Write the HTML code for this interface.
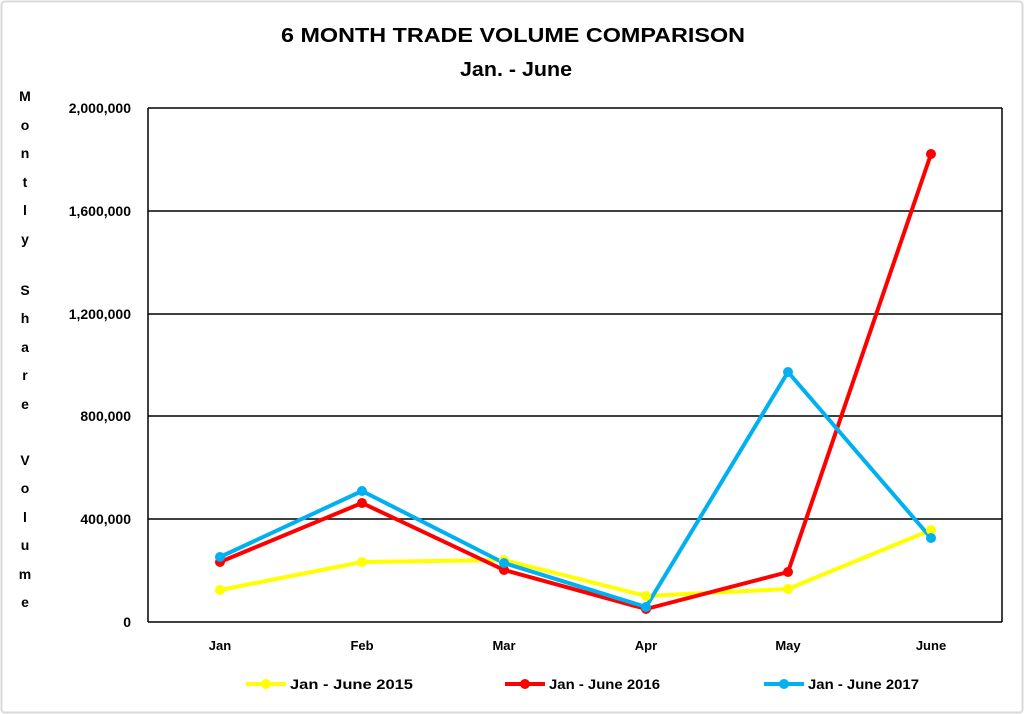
<!DOCTYPE html><html><head><style>body{margin:0;background:#fff}svg{display:block}text{font-family:"Liberation Sans",sans-serif;font-weight:bold}</style></head><body>
<svg width="1024" height="714" viewBox="0 0 1024 714">
<rect x="1.5" y="1.5" width="1021" height="711" fill="#fff" stroke="#d9d9d9" stroke-width="2" rx="3"/>
<text x="281" y="42" font-size="20" textLength="464" lengthAdjust="spacingAndGlyphs">6 MONTH TRADE VOLUME COMPARISON</text>
<text x="460" y="76" font-size="20" textLength="112" lengthAdjust="spacingAndGlyphs">Jan. - June</text>
<g font-size="14" text-anchor="middle">
<text x="25" y="101">M</text><text x="25" y="130">o</text><text x="25" y="158">n</text><text x="25" y="187">t</text><text x="25" y="215">l</text><text x="25" y="244">y</text>
<text x="25" y="295">S</text><text x="25" y="323">h</text><text x="25" y="352">a</text><text x="25" y="380">r</text><text x="25" y="409">e</text>
<text x="25" y="465">V</text><text x="25" y="493">o</text><text x="25" y="522">l</text><text x="25" y="550">u</text><text x="25" y="579">m</text><text x="25" y="607">e</text>
</g>
<g stroke="#000" stroke-width="1.5">
<line x1="148" y1="108" x2="1002" y2="108"/><line x1="148" y1="211" x2="1002" y2="211"/><line x1="148" y1="314" x2="1002" y2="314"/><line x1="148" y1="416" x2="1002" y2="416"/><line x1="148" y1="519" x2="1002" y2="519"/><line x1="148" y1="622" x2="1002" y2="622"/>
<line x1="148" y1="108" x2="148" y2="622"/><line x1="1002" y1="108" x2="1002" y2="622"/>
</g>
<g font-size="14" text-anchor="end">
<text x="131" y="113">2,000,000</text><text x="131" y="216">1,600,000</text><text x="131" y="319">1,200,000</text><text x="131" y="421">800,000</text><text x="131" y="524">400,000</text><text x="131" y="627">0</text>
</g>
<g font-size="13" text-anchor="middle">
<text x="220" y="650">Jan</text><text x="362" y="650">Feb</text><text x="504" y="650">Mar</text><text x="646" y="650">Apr</text><text x="788" y="650">May</text><text x="931" y="650">June</text>
</g>
<g stroke-width="4" fill="none" stroke-linejoin="round">
<polyline stroke="#ffff00" points="220,590 362,562 504,560 646,596 788,589 931,530"/>
<polyline stroke="#ff0000" points="220,562 362,503 504,570 646,609 788,572 931,154"/>
<polyline stroke="#00b0f0" points="220,557 362,491 504,563 646,607 788,372 931,538"/>
</g>
<g fill="#ffff00"><circle cx="220" cy="590" r="5"/><circle cx="362" cy="562" r="5"/><circle cx="504" cy="560" r="5"/><circle cx="646" cy="596" r="5"/><circle cx="788" cy="589" r="5"/><circle cx="931" cy="530" r="5"/></g>
<g fill="#ff0000"><circle cx="220" cy="562" r="5"/><circle cx="362" cy="503" r="5"/><circle cx="504" cy="570" r="5"/><circle cx="646" cy="609" r="5"/><circle cx="788" cy="572" r="5"/><circle cx="931" cy="154" r="5"/></g>
<g fill="#00b0f0"><circle cx="220" cy="557" r="5"/><circle cx="362" cy="491" r="5"/><circle cx="504" cy="563" r="5"/><circle cx="646" cy="607" r="5"/><circle cx="788" cy="372" r="5"/><circle cx="931" cy="538" r="5"/></g>
<g stroke-width="4"><line x1="246" y1="684" x2="286" y2="684" stroke="#ffff00"/><line x1="505" y1="684" x2="545" y2="684" stroke="#ff0000"/><line x1="764" y1="684" x2="804" y2="684" stroke="#00b0f0"/></g>
<circle cx="266" cy="684" r="5" fill="#ffff00"/><circle cx="525" cy="684" r="5" fill="#ff0000"/><circle cx="784" cy="684" r="5" fill="#00b0f0"/>
<g font-size="14"><text x="290" y="689" textLength="123" lengthAdjust="spacingAndGlyphs">Jan - June 2015</text><text x="549" y="689" textLength="111" lengthAdjust="spacingAndGlyphs">Jan - June 2016</text><text x="808" y="689" textLength="111" lengthAdjust="spacingAndGlyphs">Jan - June 2017</text></g>
</svg></body></html>
